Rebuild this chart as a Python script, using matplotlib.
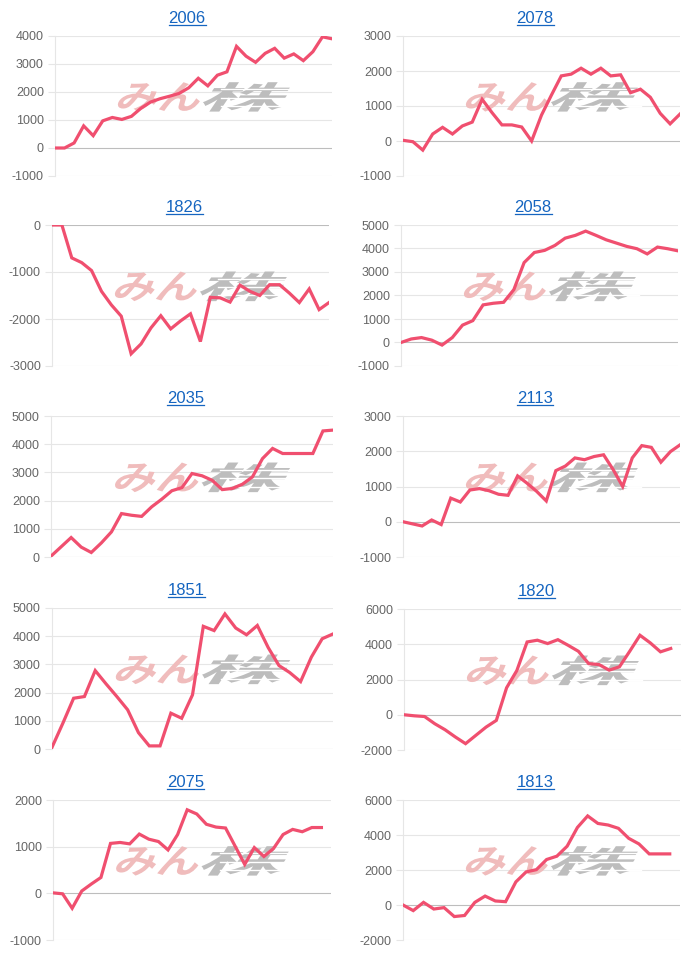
import numpy as np
import matplotlib
matplotlib.use("Agg")
import matplotlib.pyplot as plt
import matplotlib.transforms as mtransforms
from matplotlib.textpath import TextPath
from matplotlib.patches import PathPatch
from matplotlib.font_manager import FontProperties
from matplotlib.lines import Line2D

nan = np.nan

titles = ["2006", "2078", "1826", "2058", "2035", "2113", "1851", "1820", "2075", "1813"]

s2006 = [0, 0, 180, 790, 440, 970, 1090, 1020, 1130, 1420, 1640, 1760, 1850, 1950, 2150,
         2490, 2220, 2600, 2720, 3630, 3280, 3060, 3380, 3560, 3210, 3360, 3120, 3440, 3970, 3900]
s2078 = [20, -20, -260, 200, 390, 200, 430, 540, 1190, 810, 460, 460, 400, 0, 740,
         1310, 1860, 1910, 2080, 1910, 2080, 1860, 1890, 1380, 1480, 1250, 790, 490, 770]
s1826 = [0, 0, -700, -800, -970, -1410, -1700, -1940, -2740, -2530, -2190, -1930, -2210, -2040, -1890,
         -2480, -1540, -1550, -1640, -1280, -1410, -1500, -1270, -1270, -1450, -1650, -1360, -1800, -1650]
s2058 = [0, 150, 210, 100, -110, 210, 740, 930, 1600, 1670, 1710, 2250, 3400, 3830,
         3920, 4130, 4440, 4560, 4740, 4560, 4370, 4230, 4090, 3990, 3770, 4060, 3990, 3900]
s2035 = [30, 360, 690, 350, 160, 500, 890, 1540, 1480, 1440, 1780, 2050, 2350, 2460, 2960,
         2880, 2720, 2390, 2430, 2580, 2840, 3490, 3850, 3670, 3670, 3670, 3670, 4470, 4500]
s2113 = [0, -60, -120, 50, -80, 670, 560, 900, 940, 880, 780, 750, 1300, 1090, 860,
         590, 1450, 1580, 1810, 1760, 1850, 1900, 1480, 1000, 1810, 2160, 2110, 1690, 1990, 2180]
s1851 = [60, 910, 1800, 1860, 2780, 2310, 1860, 1390, 580, 110, 110, 1270, 1090, 1920,
         4350, 4200, 4790, 4290, 4050, 4380, 3600, 2960, 2710, 2390, 3260, 3910, 4080]
s1820 = [0, -60, -100, -510, -850, -1260, -1640, -1170, -700, -320, 1530, 2510, 4130, 4230,
         4040, 4260, 3940, 3600, 2900, 2850, 2530, 2720, 3600, 4510, 4080, 3570, 3760, nan]
s2075 = [10, -10, -320, 50, 200, 340, 1070, 1090, 1060, 1270, 1160, 1110, 930, 1260, 1790,
         1700, 1480, 1420, 1400, 1010, 620, 980, 790, 960, 1260, 1370, 1320, 1410, 1410, nan]
s1813 = [0, -320, 150, -230, -150, -660, -600, 150, 510, 230, 190, 1320, 1890, 2020,
         2600, 2790, 3360, 4430, 5090, 4660, 4570, 4380, 3810, 3490, 2920, 2920, 2920, nan]

series = [s2006, s2078, s1826, s2058, s2035, s2113, s1851, s1820, s2075, s1813]

ymins = [-1000, -1000, -3000, -1000, 0, -1000, 0, -2000, -1000, -2000]
ymaxs = [4000, 3000, 0, 5000, 5000, 3000, 5000, 6000, 2000, 6000]
ysteps = [1000, 1000, 1000, 1000, 1000, 1000, 1000, 2000, 1000, 2000]

# plot boxes in pixels: left, right, top, bottom
boxes = [(55, 332, 36, 176), (403, 680, 36, 176),
         (52, 329, 225, 366), (401, 678, 225, 366),
         (51, 333, 416, 557), (403, 680, 416, 557),
         (52, 333, 608, 749), (404, 681, 609, 750),
         (53, 331, 800, 940), (403, 680, 800, 940)]

W, H = 700, 955
plt.rcParams["font.family"] = ["Liberation Sans", "DejaVu Sans"]
plt.rcParams["axes.unicode_minus"] = False

fig = plt.figure(figsize=(W / 100, H / 100), dpi=100)

logo_fp = FontProperties(family="Noto Sans CJK JP", weight="bold")


def logo(ax):
    parts = [("みん", (0.227, 0.46, 0.523, 0.67), "#f0bcbc"),
             ("株", (0.534, 0.46, 0.848, 0.67), "#bdbdbd")]
    for txt, (x0, y0, x1, y1), col in parts:
        p = TextPath((0, 0), txt, size=1, prop=logo_fp)
        p = mtransforms.Affine2D().skew_deg(14, 0).transform_path(p)
        ext = p.get_extents()
        tr = (mtransforms.Affine2D()
              .translate(-ext.x0, -ext.y0)
              .scale((x1 - x0) / ext.width, (y1 - y0) / ext.height)
              .translate(x0, y0)) + ax.transAxes
        ax.add_patch(PathPatch(p, transform=tr, fc=col, ec="none", zorder=1.5))
    # speed lines cut through the grey part
    for yy in [0.50, 0.56, 0.62]:
        ax.plot([0.60, 0.86], [yy, yy], transform=ax.transAxes, color="white",
                lw=1.0, zorder=1.6)


title_texts = []
for i, (title, vals) in enumerate(zip(titles, series)):
    l, r, t, b = boxes[i]
    ax = fig.add_axes([l / W, 1 - b / H, (r - l) / W, (b - t) / H])
    x = np.arange(len(vals))
    ax.plot(x, vals, color="#f04f6f", lw=2.3, solid_joinstyle="miter", zorder=3)
    ax.set_xlim(0, len(vals) - 1)
    ax.set_ylim(ymins[i], ymaxs[i])
    ax.set_yticks(np.arange(ymins[i], ymaxs[i] + 1, ysteps[i]))
    ax.set_xticks([])
    ax.yaxis.grid(True, color="#e6e6e6", lw=0.8, zorder=0)
    ax.set_axisbelow(True)
    for gl, tv in zip(ax.get_ygridlines(), ax.get_yticks()):
        if tv == 0:
            gl.set_color("#bdbdbd")
    for side in ["top", "right", "bottom"]:
        ax.spines[side].set_visible(False)
    ax.spines["left"].set_color("#e6e6e6")
    ax.tick_params(axis="y", length=5, color="#e6e6e6", labelcolor="#666666",
                   labelsize=9, pad=3, width=0.8)
    logo(ax)
    tt = ax.annotate(title, xy=(0.477, 1), xycoords="axes fraction",
                     xytext=(0, 9.5), textcoords="offset points",
                     ha="center", va="baseline", fontsize=12, color="#1565c0")
    title_texts.append(tt)

fig.canvas.draw()
for tt in title_texts:
    bb = tt.get_window_extent()
    base = tt.axes.transAxes.transform((0.477, 1))[1] + 9.5 * fig.dpi / 72
    yu = (base - 1.8) / H
    fig.add_artist(Line2D([bb.x0 / W, bb.x1 / W], [yu, yu], color="#1565c0", lw=0.9))

fig.savefig("out.png", dpi=100)
